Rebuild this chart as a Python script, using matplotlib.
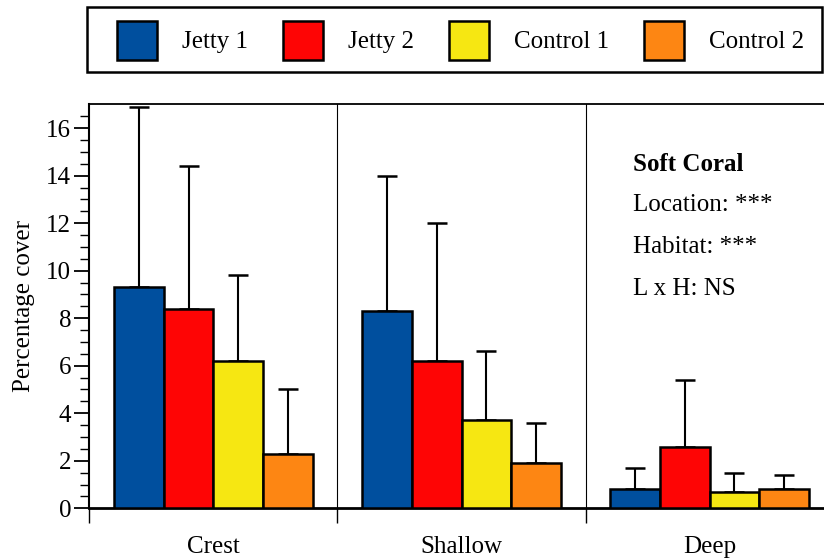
import numpy as np
import matplotlib
matplotlib.use("Agg")
import matplotlib.pyplot as plt
from matplotlib.patches import Patch, Rectangle

plt.rcParams['font.family'] = ['Liberation Serif', 'DejaVu Serif']

habitats = ['Crest', 'Shallow', 'Deep']
sites = ['Jetty 1', 'Jetty 2', 'Control 1', 'Control 2']
colors = ['#004F9E', '#FE0505', '#F6E712', '#FD8613']

# mean percentage cover per site (rows) for each habitat (columns)
cover = [
    [9.3, 8.3, 0.8],
    [8.4, 6.2, 2.6],
    [6.2, 3.7, 0.7],
    [2.3, 1.9, 0.8],
]
# upper end of the error bar
cover_err_top = [
    [16.9, 14.0, 1.7],
    [14.4, 12.0, 5.4],
    [9.8, 6.6, 1.5],
    [5.0, 3.6, 1.4],
]

stats_lines = ['Location: ***', 'Habitat: ***', 'L x H: NS']

FS = 18

fig = plt.figure(figsize=(8.24, 5.6), dpi=100)
ax = fig.add_axes([0.1084, 0.0923, 0.9034, 0.7214])

x = np.arange(len(habitats))
width = 0.2
for i, site in enumerate(sites):
    pos = x + (i - 1.5) * width
    vals = np.array(cover[i])
    err = np.array(cover_err_top[i]) - vals
    ax.bar(pos, vals, width, color=colors[i], edgecolor='black',
           linewidth=1.8, zorder=3, label=site)
    ax.errorbar(pos, vals, yerr=[np.zeros_like(err), err], fmt='none',
                ecolor='black', elinewidth=1.5, capsize=7.5, capthick=1.8,
                zorder=2)

# thin separators between habitats
for b in x[:-1] + 0.5:
    ax.axvline(b, color='black', linewidth=0.8, zorder=1)

ax.set_xlim(-0.5, len(habitats) - 0.5)
ax.set_ylim(0, 17)

ax.set_yticks(np.arange(0, 17, 2))
ax.set_yticks(np.arange(0, 17, 0.5), minor=True)
ax.tick_params(axis='y', which='major', length=11, width=1.3,
               labelsize=FS, pad=2)
ax.tick_params(axis='y', which='minor', length=6.5, width=1.0)

ax.set_xticks(x)
ax.set_xticklabels(habitats)
ax.set_xticks(np.arange(-0.5, len(habitats), 1.0), minor=True)
ax.tick_params(axis='x', which='major', length=0, labelsize=FS, pad=20)
ax.tick_params(axis='x', which='minor', length=10.5, width=1.0)

ax.spines['bottom'].set_linewidth(2.0)
ax.spines['left'].set_linewidth(1.5)
ax.spines['top'].set_linewidth(1.3)
ax.spines['right'].set_linewidth(1.3)

ax.set_ylabel('Percentage cover', fontsize=FS, labelpad=8)

ax.text(1.693, 14.45, 'Soft Coral', fontsize=FS, fontweight='bold',
        va='center', ha='left')
for k, line in enumerate(stats_lines):
    ax.text(1.693, 12.75 - k * 1.77, line, fontsize=FS,
            va='center', ha='left')

# legend row inside a plain rectangular frame
handles = [Patch(facecolor=c, edgecolor='black', linewidth=1.8) for c in colors]
fig.legend(handles, sites, loc='upper left', ncol=4,
           bbox_to_anchor=(116.7 / 824, 1 - 21 / 560), fontsize=FS,
           frameon=False, handlelength=1.6, handleheight=2.0,
           handletextpad=1.0, columnspacing=1.4, borderpad=0,
           borderaxespad=0)
fig.patches.append(Rectangle((86.7 / 824, 1 - 71.7 / 560),
                             (822 - 86.7) / 824, 65 / 560,
                             transform=fig.transFigure, fill=False,
                             edgecolor='black', linewidth=1.8))

fig.savefig('out.png', dpi=100)
